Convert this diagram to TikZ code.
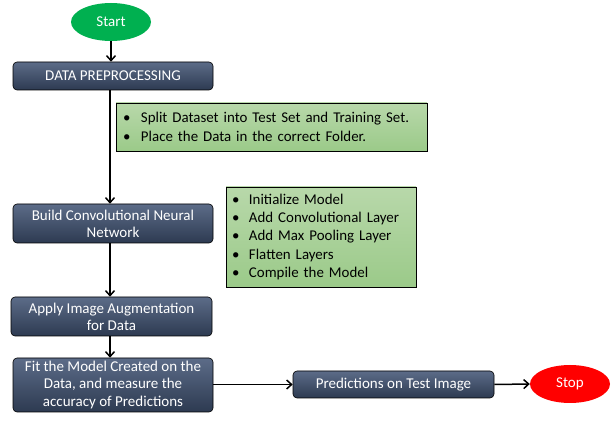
\documentclass[tikz,border=0pt]{standalone}
\usepackage{fontspec}
\setmainfont{Carlito}
\usetikzlibrary{arrows.meta,shapes.geometric}
\definecolor{boxtop}{HTML}{5C6C88}
\definecolor{boxbot}{HTML}{2D3A51}
\definecolor{notetop}{HTML}{B8D8AA}
\definecolor{notebot}{HTML}{9BCA89}
\definecolor{startgreen}{HTML}{00B050}
\definecolor{stopred}{HTML}{FF0000}
\tikzset{
  procbox/.style={draw=black, line width=0.6pt, rounded corners=4pt, top color=boxtop, bottom color=boxbot,
    text=white, align=center, minimum width=200pt, inner sep=0pt, font=\fontsize{15}{17.3}\selectfont},
  notebox/.style={draw=black, line width=0.8pt, top color=notetop, bottom color=notebot,
    text=black, align=left, inner ysep=0pt, font=\fontsize{14.9}{18.4}\selectfont},
  term/.style={ellipse, minimum width=80pt, minimum height=38pt, inner sep=0pt, text=white,
    font=\fontsize{15}{17}\selectfont},
  flow/.style={line width=1.5pt, -{Straight Barb[length=5pt,width=9pt,line width=1.5pt]}},
}
\newcommand{\bl}[1]{\makebox[18pt][l]{\textbullet}#1}
\newcommand{\blb}[1]{\makebox[17pt][l]{\textbullet}#1}
\begin{document}
\begin{tikzpicture}[x=1pt,y=-1pt]
\useasboundingbox[fill=white] (0,0) rectangle (614,422);
\node[term, fill=startgreen] (start) at (111,22) {Start};
\node[procbox, minimum height=28pt] (prep) at (113,76) {DATA PREPROCESSING};
\node[notebox, minimum width=311pt, minimum height=48pt, text width=297pt, inner xsep=7pt] (note1) at (271.5,127)
  {\bl{Split Dataset into Test Set and Training Set.}\\\bl{Place the Data in the correct Folder.}};
\node[procbox, minimum height=39pt] (cnn) at (113,223.5) {Build Convolutional Neural\\Network};
\node[notebox, minimum width=190pt, minimum height=100pt, text width=178pt, inner xsep=6pt] (note2) at (321,237)
  {\blb{Initialize Model}\\\blb{Add Convolutional Layer}\\\blb{Add Max Pooling Layer}\\\blb{Flatten Layers}\\\blb{Compile the Model}};
\node[procbox, minimum width=201pt, minimum height=39pt] (aug) at (111.5,316.5) {Apply Image Augmentation\\for Data};
\node[procbox, minimum height=54pt] (fit) at (113,385) {Fit the Model Created on the\\Data, and measure the\\accuracy of Predictions};
\node[procbox, minimum width=201pt, minimum height=27pt] (pred) at (393.5,384.5) {Predictions on Test Image};
\node[term, fill=stopred] (stop) at (570,384) {Stop};
\draw[flow] (start.south) -- (start.south |- prep.north);
\draw[flow] (prep.south -| 110,0) -- (cnn.north -| 110,0);
\draw[flow] (cnn.south -| 110,0) -- (aug.north -| 110,0);
\draw[flow] (aug.south -| 110,0) -- (fit.north -| 110,0);
\draw[flow] (fit.east |- pred.west) -- (pred.west);
\draw[flow] (pred.east) -- (stop.west);
\end{tikzpicture}
\end{document}
